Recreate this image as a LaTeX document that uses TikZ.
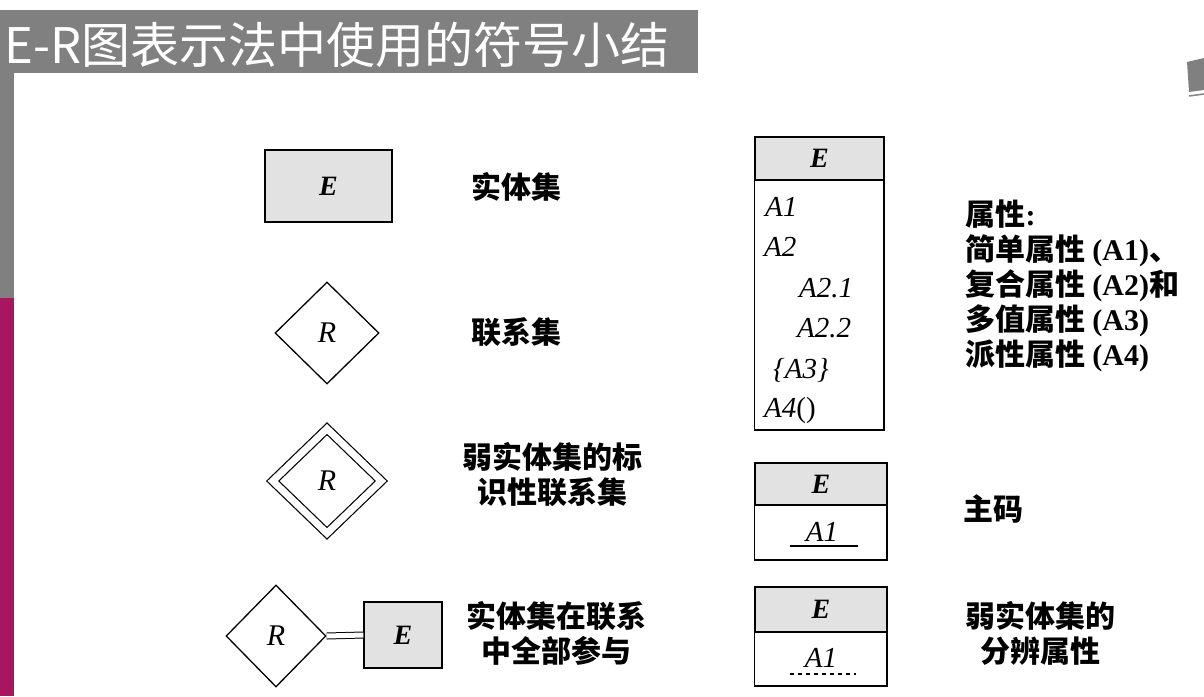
\documentclass[tikz,border=0pt]{standalone}
\usepackage{fontspec}
\setmainfont{Liberation Serif}
\newfontfamily\cjk{Noto Sans CJK SC}
\usetikzlibrary{shapes.geometric}
\usetikzlibrary{positioning}
\definecolor{barGray}{RGB}{128,128,128}
\definecolor{barRed}{RGB}{168,22,96}
\definecolor{boxGray}{RGB}{226,226,226}
\newcommand\lat[1]{{\rmfamily\bfseries #1}}

\tikzset{
  ent/.style={draw,line width=1.3pt,fill=boxGray,inner sep=0pt,
    font=\fontsize{28}{28}\selectfont\bfseries\itshape},
  rel/.style={draw,line width=1.3pt,diamond,inner sep=0pt,
    font=\fontsize{30}{30}\selectfont\itshape},
  note/.style={font=\cjk\bfseries\fontsize{30}{35}\selectfont},
  attr/.style={anchor=west,inner sep=0pt,font=\fontsize{29}{29}\selectfont\itshape},
}

\begin{document}
\begin{tikzpicture}[x=1pt,y=-1pt]

\useasboundingbox (0,0) rectangle (1204,696);

% title bar and side strip
\fill[barGray] (0,10) rectangle (698,73);
\fill[barGray] (0,73) rectangle (14,298);
\fill[barRed] (0,298) rectangle (14,696);
\fill[barGray] (1187,62) -- (1204,58) -- (1204,90) -- (1189,92) -- cycle;
\draw[barGray,line width=1.5pt] (1189,96) -- (1204,94);
\node[anchor=west,inner sep=0pt,text=white,font=\cjk\fontsize{49}{49}\selectfont]
  (title) at (4,45) {E-R图表示法中使用的符号小结};

% left column: symbols
\node[ent,minimum width=127pt,minimum height=72pt] (E1) at (328.5,186) {E};
\node[note] (t1) at (516,187) {实体集};

\node[rel,minimum width=104pt,minimum height=102pt] (R1) at (327,333) {R};
\node[note] (t2) at (516,332) {联系集};

\node[rel,double,double distance=7pt,line width=1.2pt,
  minimum width=109pt,minimum height=105pt] (R2) at (327,481) {R};
\node[note,align=center] (t3) at (552,475) {弱实体集的标\\识性联系集};

\node[rel,minimum width=100pt,minimum height=102pt] (R3) at (276,636) {R};
\node[ent,minimum width=78pt,minimum height=66pt] (E3) at (403,635) {E};
\draw[line width=1pt,double,double distance=5pt] (R3.east) -- (E3.west);
\node[note,align=center] (t4) at (556,633) {实体集在联系\\中全部参与};

% right column: attributes
\node[ent,minimum width=129pt,minimum height=43pt] (E4) at (819.5,158.5) {E};
\draw[line width=1.3pt] (E4.south west) rectangle (884,430);
\node[attr] (a1) at (765,207) {A1};
\node[attr] (a2) at (764,247) {A2};
\node[attr] (a21) at (799,288) {A2.1};
\node[attr] (a22) at (797,328) {A2.2};
\node[attr] (a3) at (773,370) {\{A3\}};
\node[attr] (a4) at (764,411) {A4\upshape()};
\node[note,anchor=west,align=left] (t5) at (962,286)
  {属性\lat{:}\\简单属性 \lat{(A1)}、\\复合属性 \lat{(A2)}和\\多值属性 \lat{(A3)}\\派性属性 \lat{(A4)}};

\node[ent,minimum width=132pt,minimum height=42pt] (E5) at (821,484) {E};
\draw[line width=1.3pt] (E5.south west) rectangle (887,560);
\node[attr,anchor=center] (k1) at (822,532) {A1};
\draw[line width=1.2pt] (790,546) -- (858,546);
\node[note] (t6) at (993,509) {主码};

\node[ent,minimum width=132pt,minimum height=45pt] (E6) at (821,609.5) {E};
\draw[line width=1.3pt] (E6.south west) rectangle (887,686);
\node[attr,anchor=center] (w1) at (821,658) {A1};
\draw[line width=1.2pt,dash pattern=on 4pt off 4pt] (790,674) -- (856,674);
\node[note,align=center] (t7) at (1040,633) {弱实体集的\\分辨属性};

\end{tikzpicture}
\end{document}
